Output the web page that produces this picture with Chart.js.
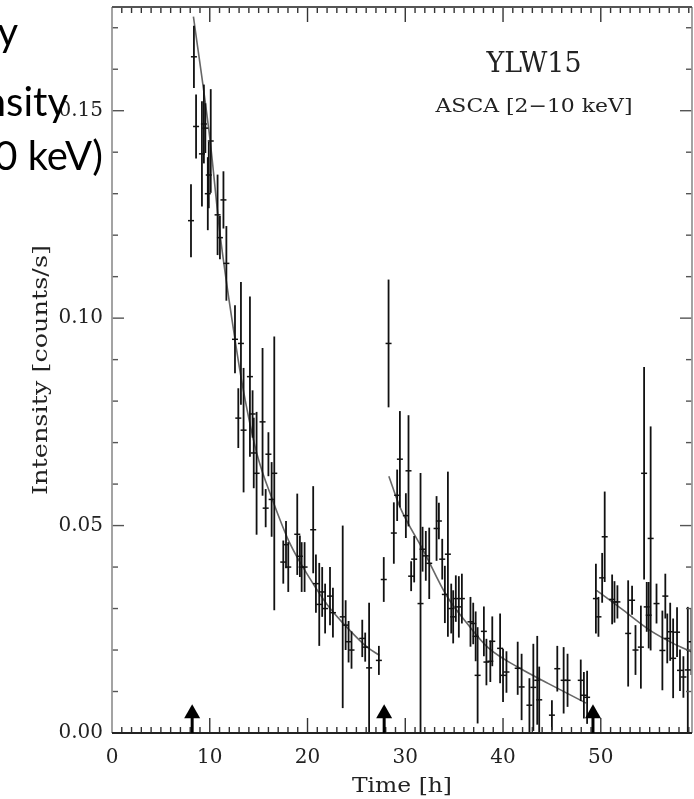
<!DOCTYPE html>
<html>
<head>
<meta charset="utf-8">
<script src="https://cdn.jsdelivr.net/npm/chart.js"></script>
<style>
  html, body { margin: 0; padding: 0; background: #fff; }
  .chart-parent { width: 694px; height: 799px; }
</style>
</head>
<body>
<div class="chart-parent"><canvas id="myChart" width="694" height="799"></canvas></div>
<script>
// light curve: time [h], rate [counts/s], 1-sigma error
const times = [
  8.08, 8.38, 8.6, 9.2, 9.4, 9.55, 9.8, 9.9, 10.1, 10.8, 11.04, 11.4, 11.7,
  12.58, 12.92, 13.19, 13.46, 14.11, 14.38, 14.5, 14.79, 15.4, 15.72, 16.0, 16.33, 16.6,
  17.52, 17.8, 18.03, 18.95, 19.22, 19.4, 19.7, 20.58, 20.86, 21.2, 21.5, 21.8, 22.3, 22.6,
  23.6, 23.9, 24.2, 24.5, 25.6, 25.9, 26.3, 27.3,
  27.8, 28.29, 28.83, 29.17, 29.45, 30.06, 30.33, 30.6, 30.91, 31.56, 31.77, 32.1, 32.45,
  33.2, 33.44, 33.78, 34.05, 34.36, 34.7, 34.9, 35.17, 35.48, 35.79, 36.67, 36.95, 37.2, 37.4,
  38.04, 38.3, 38.7, 38.9, 39.7, 40.0, 40.35, 41.5, 41.9, 42.7, 43.1, 43.5, 43.7,
  45.0, 45.55, 46.2, 46.6, 47.95, 48.27, 48.6,
  49.5, 49.76, 50.14, 50.4, 51.16, 51.4, 51.7, 52.8, 53.2, 53.55, 54.1, 54.43, 54.7, 54.9,
  55.1, 55.7, 56.3, 56.6, 56.8, 57.1, 57.4, 57.8, 58.1, 58.45, 58.9, 59.27
];
const rates = [
  0.1235, 0.163, 0.1462, 0.1396, 0.1468, 0.1458, 0.130, 0.1345, 0.1427, 0.1249, 0.1194, 0.1285, 0.1132,
  0.0949, 0.0759, 0.0939, 0.073, 0.0859, 0.0769, 0.0675, 0.0626, 0.075, 0.0542, 0.0672, 0.0563, 0.0626,
  0.0412, 0.0454, 0.040, 0.0479, 0.0426, 0.040, 0.040, 0.049, 0.036, 0.031, 0.034, 0.030, 0.033, 0.029,
  0.028, 0.026, 0.022, 0.020, 0.0228, 0.0207, 0.0157, 0.0175,
  0.037, 0.0939, 0.0482, 0.0573, 0.066, 0.0524, 0.0632, 0.0378, 0.0419, 0.0312, 0.0443, 0.0427, 0.0409,
  0.0493, 0.0511, 0.0419, 0.0334, 0.0431, 0.030, 0.028, 0.0324, 0.0304, 0.0324, 0.0268, 0.0264, 0.0233, 0.0139,
  0.0245, 0.0171, 0.0173, 0.0221, 0.0204, 0.0139, 0.0147, 0.0156, 0.0111, 0.0067, 0.011, 0.0127, 0.008,
  0.0043, 0.0155, 0.0127, 0.0127, 0.0127, 0.0091, 0.0086,
  0.0324, 0.028, 0.0374, 0.0473, 0.0322, 0.0316, 0.0316, 0.024, 0.032, 0.020, 0.0207, 0.0626, 0.0304, 0.0284,
  0.0469, 0.0312, 0.0199, 0.033, 0.0228, 0.0244, 0.018, 0.0243, 0.0151, 0.0135, 0.0152, 0.022
];
const errors = [
  0.0088, 0.0075, 0.0077, 0.0127, 0.0095, 0.006, 0.0088, 0.008, 0.0125, 0.0097, 0.0052, 0.0069, 0.009,
  0.0082, 0.0072, 0.0148, 0.015, 0.0193, 0.0057, 0.0085, 0.0148, 0.0178, 0.0046, 0.0053, 0.009, 0.033,
  0.0052, 0.0057, 0.006, 0.0098, 0.005, 0.006, 0.006, 0.0105, 0.007, 0.01, 0.006, 0.006, 0.007, 0.006,
  0.022, 0.006, 0.005, 0.0045, 0.0045, 0.0035, 0.0157, 0.0035,
  0.0054, 0.0154, 0.0074, 0.0062, 0.0116, 0.0054, 0.0134, 0.0036, 0.0056, 0.0315, 0.0054, 0.006, 0.0086,
  0.0078, 0.0044, 0.0049, 0.0069, 0.0199, 0.006, 0.0064, 0.0056, 0.0074, 0.006, 0.006, 0.005, 0.006, 0.0116,
  0.006, 0.0056, 0.005, 0.006, 0.0084, 0.0064, 0.005, 0.0064, 0.008, 0.0065, 0.0105, 0.0107, 0.008,
  0.0036, 0.0055, 0.008, 0.0064, 0.005, 0.0056, 0.0064,
  0.0084, 0.0048, 0.006, 0.0109, 0.006, 0.005, 0.004, 0.0128, 0.0035, 0.006, 0.010, 0.0256, 0.006, 0.008,
  0.027, 0.0048, 0.0096, 0.0054, 0.006, 0.007, 0.0096, 0.006, 0.005, 0.005, 0.0152, 0.008
];

// decay fits
const fit1Times = [8.33, 10.0, 11.04, 12.58, 13.43, 14.8, 16.5, 18.2, 20.25, 22.0, 24.3, 26.1, 27.36];
const fit1Rates = [0.1727, 0.1435, 0.1205, 0.0949, 0.0827, 0.0675, 0.0557, 0.0457, 0.0372, 0.0310, 0.0248, 0.0207, 0.0187];
const fit2Times = [28.32, 29.45, 31.83, 34.2, 36.6, 38.5, 41.5, 44.65, 48.5];
const fit2Rates = [0.0619, 0.0545, 0.0441, 0.0332, 0.0256, 0.0205, 0.0159, 0.0119, 0.0072];
const fit3Times = [49.56, 52.3, 55.0, 57.4, 59.33];
const fit3Rates = [0.0344, 0.0296, 0.0248, 0.0216, 0.0195];

const arrowTimes = [8.2, 27.84, 49.2];

const xTickValues = [0, 10, 20, 30, 40, 50];
const xTickLabels = ['0', '10', '20', '30', '40', '50'];
const yTickValues = [0, 0.05, 0.10, 0.15];
const yTickLabels = ['0.00', '0.05', '0.10', '0.15'];

const slideLines = ['X-ray', 'Intensity', '(2-10 keV)'];

const toXY = (ts, vs) => ts.map((t, i) => ({ x: t, y: vs[i] }));

function stretchText(ctx, text, x, y, width, font, align) {
  ctx.font = font;
  const sx = width / ctx.measureText(text).width;
  ctx.save();
  ctx.translate(x, y);
  ctx.scale(sx, 1);
  ctx.textAlign = align;
  ctx.fillText(text, 0, 0);
  ctx.restore();
}

// no label overhang padding, so the plot box lands where the original does
const noPadding = s => { s.paddingTop = 0; s.paddingBottom = 0; s.paddingLeft = 0; s.paddingRight = 0; };

const errorBars = {
  id: 'errorBars',
  afterDatasetsDraw(chart) {
    const { ctx, chartArea: a, scales: { x, y } } = chart;
    ctx.save();
    ctx.beginPath();
    ctx.rect(a.left, a.top, a.right - a.left, a.bottom - a.top);
    ctx.clip();
    ctx.strokeStyle = '#111';
    ctx.lineWidth = 1.8;
    times.forEach((t, i) => {
      const px = x.getPixelForValue(t);
      ctx.beginPath();
      ctx.moveTo(px, y.getPixelForValue(rates[i] - errors[i]));
      ctx.lineTo(px, y.getPixelForValue(rates[i] + errors[i]));
      ctx.stroke();
    });
    ctx.restore();
  }
};

const frame = {
  id: 'frame',
  afterDraw(chart) {
    const { ctx, chartArea: a, scales: { x, y } } = chart;
    const seg = (x1, y1, x2, y2) => { ctx.beginPath(); ctx.moveTo(x1, y1); ctx.lineTo(x2, y2); ctx.stroke(); };
    ctx.save();
    ctx.lineWidth = 1.4;

    // time ticks, top and bottom
    ctx.strokeStyle = '#333';
    for (let t = 1; t < 60; t++) {
      const px = x.getPixelForValue(t);
      if (px > a.right - 1) break;
      const len = t % 10 === 0 ? 15 : 6;
      seg(px, a.bottom, px, a.bottom - len);
      seg(px, a.top, px, a.top + len);
    }
    // intensity ticks, left and right
    ctx.strokeStyle = '#555';
    for (let k = 1; k <= 17; k++) {
      const py = y.getPixelForValue(k / 100);
      const len = k % 5 === 0 ? 12 : 6;
      seg(a.left, py, a.left + len, py);
      seg(a.right, py, a.right - len, py);
    }

    // box
    ctx.lineWidth = 1.8;
    ctx.strokeStyle = '#999';
    seg(a.left, a.top, a.left, a.bottom);
    seg(a.right, a.top, a.right, a.bottom);
    ctx.strokeStyle = '#222';
    seg(a.left, a.bottom, a.right, a.bottom);
    ctx.strokeStyle = '#555';
    seg(a.left, a.top, a.right, a.top);

    // arrows marking the flare onsets
    ctx.fillStyle = '#000';
    ctx.strokeStyle = '#000';
    ctx.lineWidth = 3;
    arrowTimes.forEach(t => {
      const px = x.getPixelForValue(t);
      const tip = y.getPixelForValue(0.0069);
      seg(px, a.bottom, px, tip + 10);
      ctx.beginPath();
      ctx.moveTo(px, tip);
      ctx.lineTo(px - 8, tip + 14);
      ctx.lineTo(px + 8, tip + 14);
      ctx.closePath();
      ctx.fill();
    });

    // plot labels
    ctx.fillStyle = '#222';
    ctx.textBaseline = 'alphabetic';
    stretchText(ctx, 'YLW15', 534, 72, 95, '28px "DejaVu Serif"', 'center');
    stretchText(ctx, 'ASCA [2\u221210 keV]', 534, 112, 197, '19px "DejaVu Serif"', 'center');
    stretchText(ctx, 'Time [h]', 402, 792, 100, '20px "DejaVu Serif"', 'center');
    ctx.save();
    ctx.translate(47, (a.top + a.bottom) / 2);
    ctx.rotate(-Math.PI / 2);
    stretchText(ctx, 'Intensity [counts/s]', 0, 0, 250, '20px "DejaVu Serif"', 'center');
    ctx.restore();

    // slide text cut off at the left edge
    ctx.fillStyle = '#000';
    ctx.font = '40px Lato';
    ctx.textAlign = 'right';
    ctx.fillText(slideLines[0], 18, 46);
    ctx.fillText(slideLines[1], 68, 116);
    ctx.fillText(slideLines[2], 103, 170);
    ctx.restore();
  }
};

const ctx = document.getElementById('myChart');

new Chart(ctx, {
  type: 'scatter',
  data: {
    datasets: [
      {
        label: 'ASCA 2-10 keV',
        data: toXY(times, rates),
        pointStyle: 'line',
        pointRadius: 3,
        pointBorderWidth: 1.5,
        borderColor: '#111',
        showLine: false
      },
      {
        label: 'fit 1',
        data: toXY(fit1Times, fit1Rates),
        showLine: true,
        pointRadius: 0,
        borderColor: '#666',
        borderWidth: 1.6,
        cubicInterpolationMode: 'monotone'
      },
      {
        label: 'fit 2',
        data: toXY(fit2Times, fit2Rates),
        showLine: true,
        pointRadius: 0,
        borderColor: '#666',
        borderWidth: 1.6,
        cubicInterpolationMode: 'monotone'
      },
      {
        label: 'fit 3',
        data: toXY(fit3Times, fit3Rates),
        showLine: true,
        pointRadius: 0,
        borderColor: '#666',
        borderWidth: 1.6,
        cubicInterpolationMode: 'monotone'
      }
    ]
  },
  options: {
    responsive: false,
    animation: false,
    layout: { autoPadding: false, padding: { top: 7, right: 2, left: 0, bottom: 0 } },
    plugins: { legend: { display: false }, tooltip: { enabled: false } },
    scales: {
      x: {
        type: 'linear',
        min: 0,
        max: 59.33,
        grid: { display: false, drawTicks: false },
        border: { display: false },
        afterBuildTicks: s => { s.ticks = xTickValues.map(v => ({ value: v })); },
        afterFit: s => { s.height = 66; noPadding(s); },
        ticks: {
          padding: 13,
          color: '#222',
          font: { family: 'DejaVu Serif', size: 20 },
          maxRotation: 0,
          callback: (v, i) => xTickLabels[i]
        }
      },
      y: {
        type: 'linear',
        min: 0,
        max: 0.175,
        grid: { display: false, drawTicks: false },
        border: { display: false },
        afterBuildTicks: s => { s.ticks = yTickValues.map(v => ({ value: v })); },
        afterFit: s => { s.width = 112; noPadding(s); },
        ticks: {
          padding: 9,
          color: '#222',
          font: { family: 'DejaVu Serif', size: 20 },
          callback: (v, i) => yTickLabels[i]
        }
      }
    }
  },
  plugins: [errorBars, frame]
});
</script>
</body>
</html>
